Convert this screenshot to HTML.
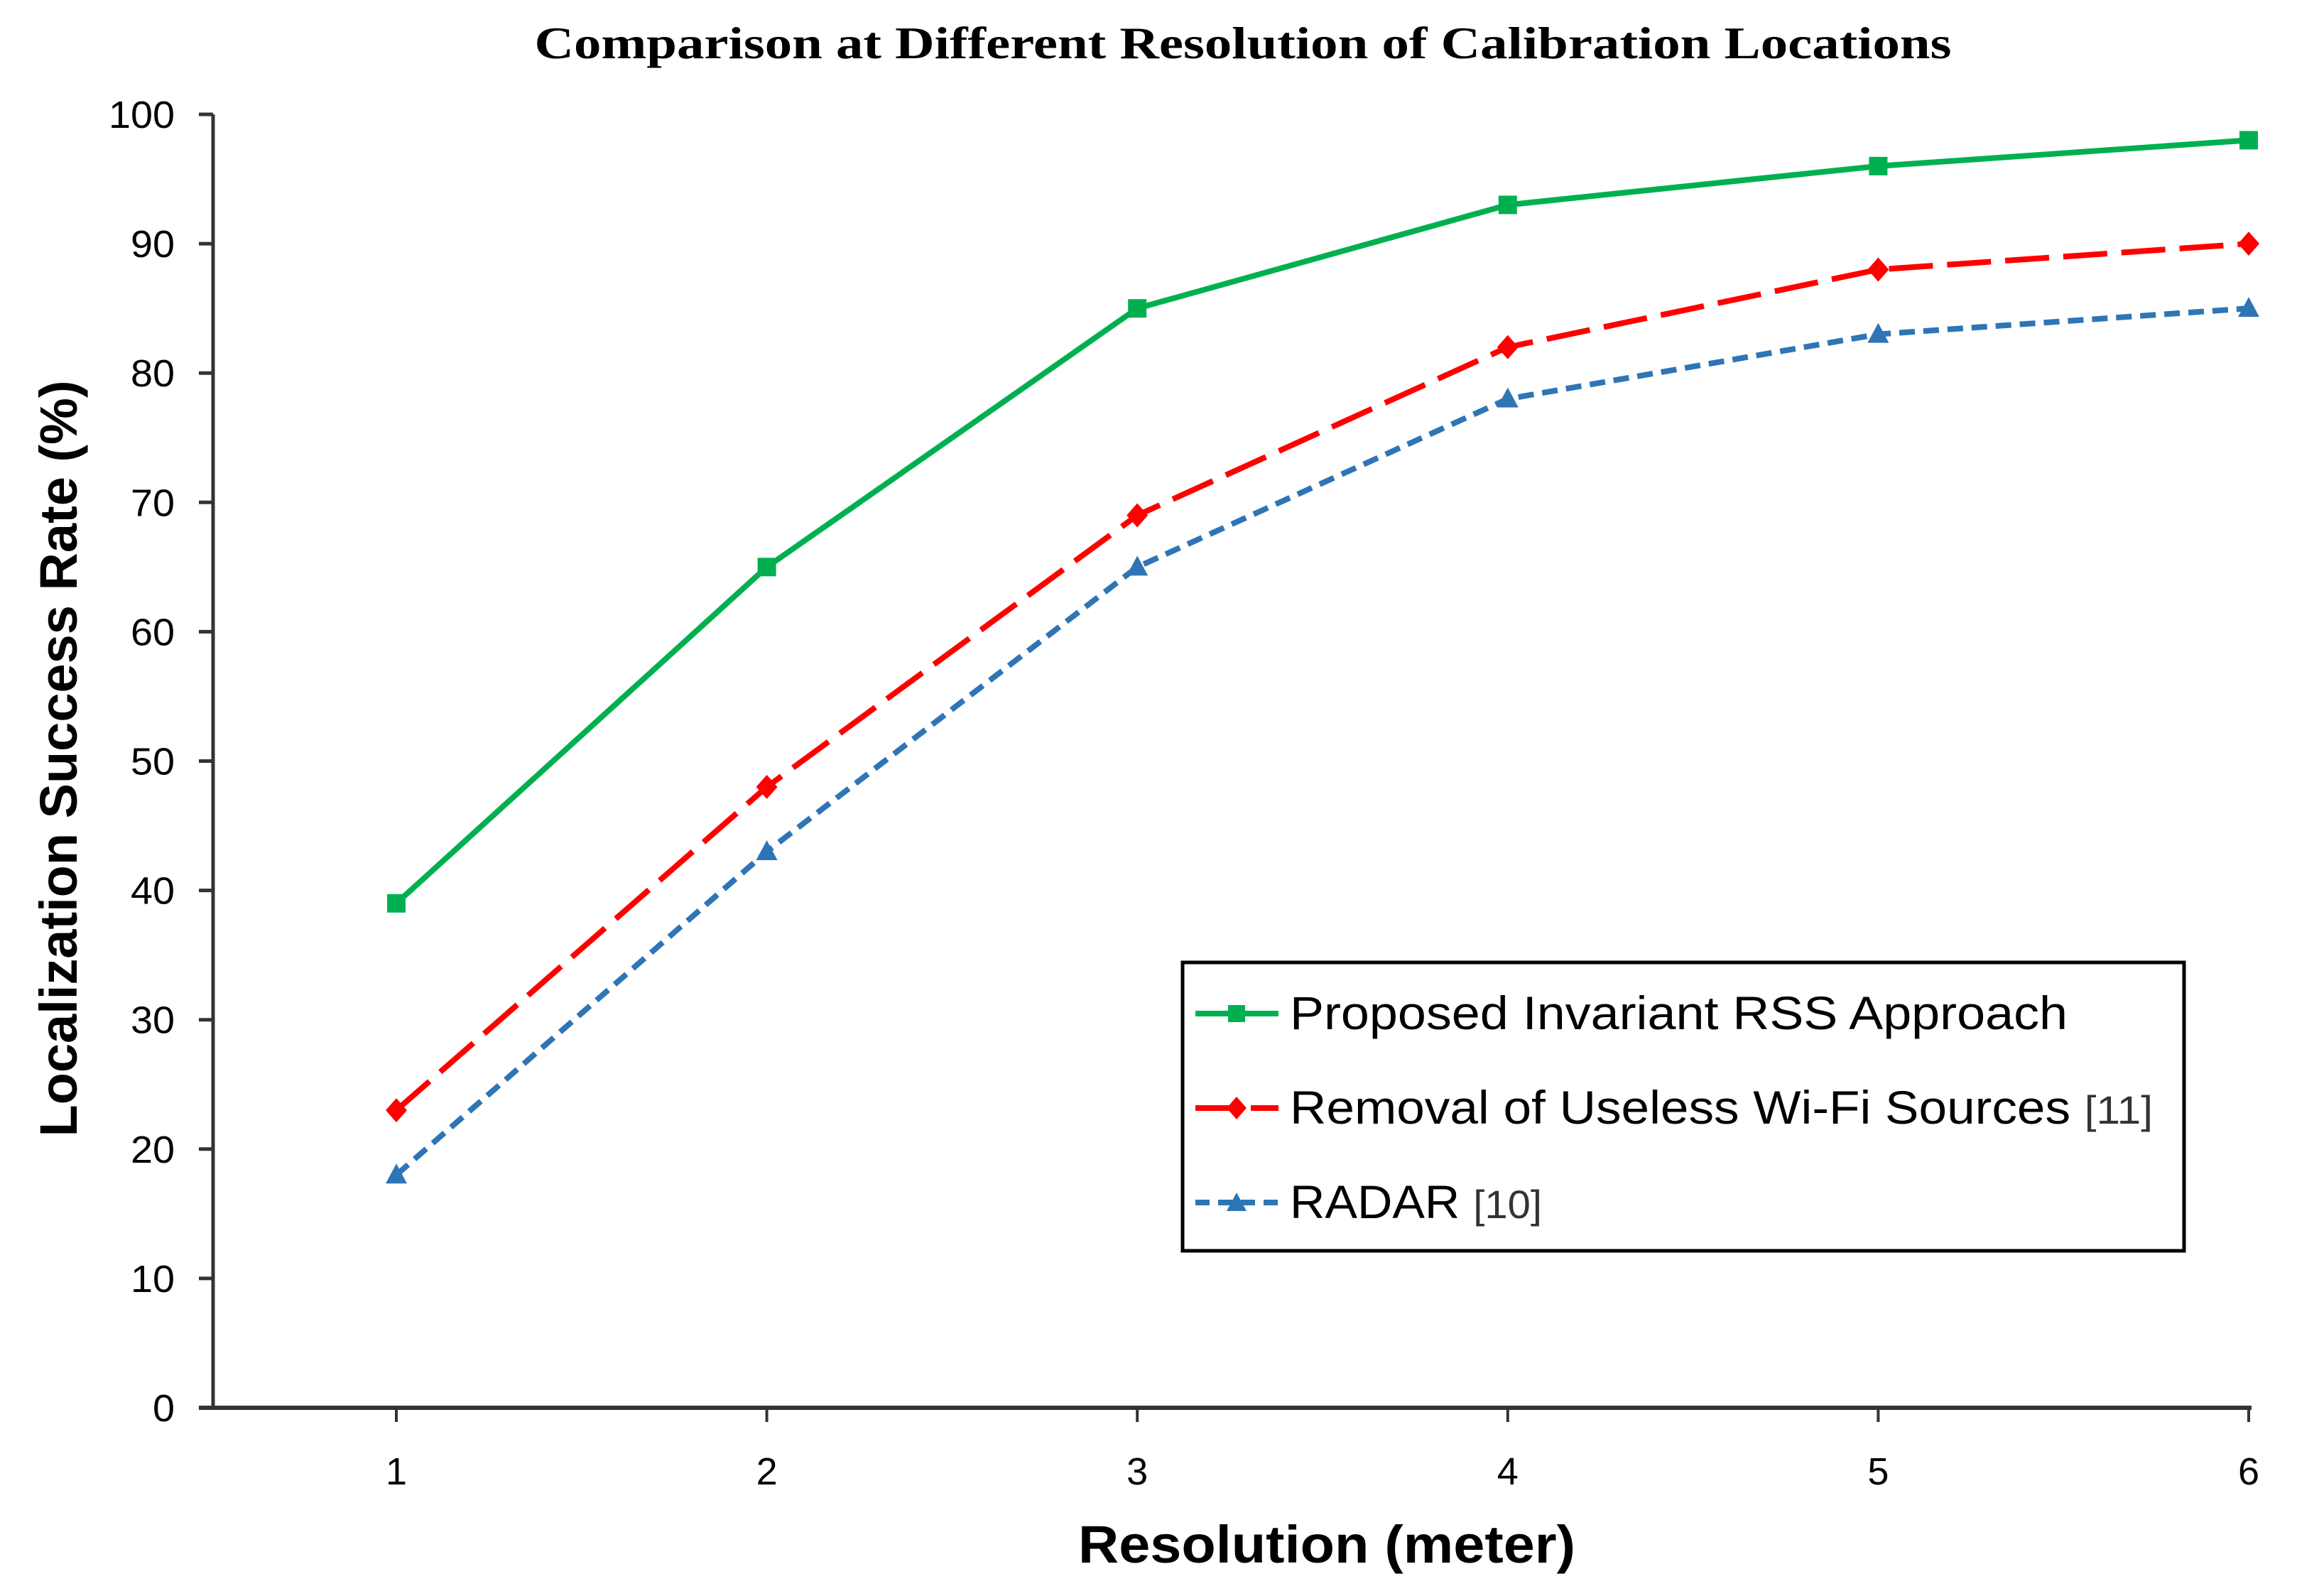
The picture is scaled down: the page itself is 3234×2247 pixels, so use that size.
<!DOCTYPE html>
<html><head><meta charset="utf-8"><style>
html,body{margin:0;padding:0;background:#fff}
svg{display:block;font-family:"Liberation Sans",sans-serif}
</style></head><body>
<svg id="chart" width="3234" height="2247" viewBox="0 0 3234 2247">
<text x="1750" y="82" text-anchor="middle" font-family="Liberation Serif, serif" font-weight="bold" font-size="64" textLength="1995" lengthAdjust="spacingAndGlyphs">Comparison at Different Resolution of Calibration Locations</text>
<g id="axes"></g>
<g id="series"></g>
<text transform="translate(108,1068) rotate(-90)" text-anchor="middle" font-weight="bold" font-size="74" textLength="1065" lengthAdjust="spacingAndGlyphs">Localization Success Rate (%)</text>
<text x="1868" y="2200" text-anchor="middle" font-weight="bold" font-size="74" textLength="700" lengthAdjust="spacingAndGlyphs">Resolution (meter)</text>
<g>
<rect x="1665" y="1355" width="1410" height="406" fill="#fff" stroke="#000" stroke-width="5"/>
<g>
<line x1="1683" y1="1427" x2="1800" y2="1427" stroke="#00b050" stroke-width="8"/>
<rect x="1729" y="1415" width="24" height="24" fill="#00b050"/>
<text x="1816" y="1449" font-size="66" textLength="1095" lengthAdjust="spacingAndGlyphs">Proposed Invariant RSS Approach</text></g>
<g>
<line x1="1683" y1="1560" x2="1800" y2="1560" stroke="#ff0000" stroke-width="8" stroke-dasharray="60,18"/>
<path d="M1741 1544 L1755 1560 L1741 1576 L1727 1560 Z" fill="#ff0000"/>
<text x="1816" y="1582" font-size="66" textLength="1215" lengthAdjust="spacingAndGlyphs">Removal of Useless Wi-Fi Sources <tspan font-size="56" fill="#333">[11]</tspan></text></g>
<g>
<line x1="1683" y1="1693" x2="1800" y2="1693" stroke="#2e75b6" stroke-width="8" stroke-dasharray="20,12"/>
<path d="M1741 1679 L1755 1705 L1727 1705 Z" fill="#2e75b6"/>
<text x="1816" y="1715" font-size="66" textLength="355" lengthAdjust="spacingAndGlyphs">RADAR <tspan font-size="56" fill="#333">[10]</tspan></text></g>
</g>
</svg>
<script>
const categories = [1, 2, 3, 4, 5, 6];
const proposedValues = [39, 65, 85, 93, 96, 98];
const removalValues = [23, 48, 69, 82, 88, 90];
const radarValues = [18, 43, 65, 78, 83, 85];
const yTicks = [0, 10, 20, 30, 40, 50, 60, 70, 80, 90, 100];

const NS = 'http://www.w3.org/2000/svg';
const L = 300, B = 1982, T = 161, X1 = 558, X6 = 3166;
const xS = v => X1 + (v - 1) * (X6 - X1) / 5;
const yS = v => B - v * (B - T) / 100;
function mk(tag, attrs, parent) {
  const e = document.createElementNS(NS, tag);
  for (const k in attrs) e.setAttribute(k, attrs[k]);
  parent.appendChild(e);
  return e;
}
const axes = document.getElementById('axes');
let e = mk('line', {x1: L, y1: T, x2: L, y2: B, stroke: '#333', 'stroke-width': 5}, axes);


e = mk('line', {x1: L - 20, y1: B, x2: X6 + 4, y2: B, stroke: '#333', 'stroke-width': 6}, axes);


yTicks.forEach(t => {
  mk('line', {x1: L - 20, y1: yS(t), x2: L, y2: yS(t), stroke: '#333', 'stroke-width': 5}, axes);
  const tx = mk('text', {x: 246, y: yS(t) + 19, 'text-anchor': 'end', 'font-size': 54, textLength: String(t).length * 31, lengthAdjust: 'spacingAndGlyphs'}, axes);
  tx.textContent = t;
  
  
});
categories.forEach(c => {
  mk('line', {x1: xS(c), y1: B, x2: xS(c), y2: B + 20, stroke: '#333', 'stroke-width': 4}, axes);
  const tx = mk('text', {x: xS(c), y: 2090, 'text-anchor': 'middle', 'font-size': 54}, axes);
  tx.textContent = c;
  
  
});
const sg = document.getElementById('series');
function series(vals, color, dash, marker, name) {
  const g = mk('g', {}, sg);
  
  
  const pts = vals.map((v, i) => xS(categories[i]) + ',' + yS(v)).join(' ');
  mk('polyline', {points: pts, fill: 'none', stroke: color, 'stroke-width': 8, 'stroke-dasharray': dash, 'stroke-linejoin': 'round'}, g);
  vals.forEach((v, i) => {
    const x = xS(categories[i]), y = yS(v);
    let m;
    if (marker === 'square') m = mk('rect', {x: x - 13, y: y - 13, width: 26, height: 26, fill: color}, g);
    else if (marker === 'diamond') m = mk('path', {d: `M${x} ${y-17} L${x+15} ${y} L${x} ${y+17} L${x-15} ${y} Z`, fill: color}, g);
    else m = mk('path', {d: `M${x} ${y-16} L${x+15} ${y+12} L${x-15} ${y+12} Z`, fill: color}, g);
    
    
  });
}
series(radarValues, '#2e75b6', '22,12', 'triangle', 'series-radar');
series(removalValues, '#ff0000', '62,20', 'diamond', 'series-removal');
series(proposedValues, '#00b050', 'none', 'square', 'series-proposed');
</script>
</body></html>
